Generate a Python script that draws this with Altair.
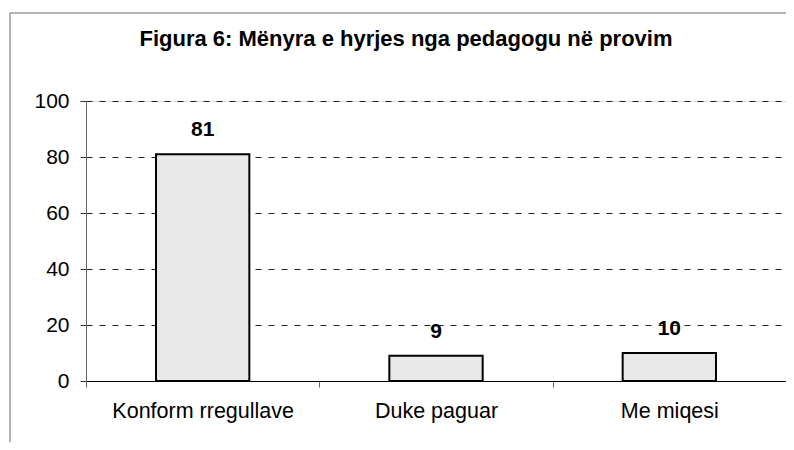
import altair as alt
import pandas as pd

categories = ["Konform rregullave", "Duke paguar", "Me miqesi"]
values = [81, 9, 10]
y_ticks = [0, 20, 40, 60, 80, 100]
title_text = "Figura 6: Mënyra e hyrjes nga pedagogu në provim"

df = pd.DataFrame({"cat": categories, "val": values})
FONT = "Liberation Sans"

x_enc = alt.X(
    "cat:N",
    sort=categories,
    title=None,
    scale=alt.Scale(paddingInner=0, paddingOuter=0),
    axis=alt.Axis(
        labelAngle=0, tickBand="extent", tickSize=6, tickColor="#666666",
        domainColor="#000000", domainWidth=1.2, labelFont=FONT, labelFontSize=21.5,
        labelColor="#000000", labelPadding=13, labelLimit=400, grid=False,
    ),
)
y_enc = alt.Y(
    "val:Q",
    title=None,
    scale=alt.Scale(domain=[0, 100], nice=False),
    axis=alt.Axis(
        values=y_ticks, tickSize=6, tickColor="#333333", domainColor="#666666",
        labelFont=FONT, labelFontSize=21, labelColor="#000000", labelPadding=11,
        grid=True, gridColor="#222222", gridDash=[6, 7], gridWidth=1,
    ),
)

bars = alt.Chart(df).mark_bar(
    width=alt.RelativeBandSize(0.4), fill="#E8E8E8", stroke="#000000", strokeWidth=2
).encode(x=x_enc, y=y_enc)

labels = alt.Chart(df).mark_text(
    font=FONT, fontSize=21, fontWeight="bold", baseline="alphabetic", dy=-18, color="#000000"
).encode(x=alt.X("cat:N", sort=categories), y="val:Q", text="val:Q")

frame_data = alt.Data(values=[{"k": 1}])
frame_left = alt.Chart(frame_data).mark_rule(color="#999999", strokeWidth=1.5).encode(
    x=alt.value(-76), y=alt.value(-88), y2=alt.value(360)
)
frame_top = alt.Chart(frame_data).mark_rule(color="#999999", strokeWidth=1.5).encode(
    x=alt.value(-76), x2=alt.value(720), y=alt.value(-88)
)

chart = alt.layer(bars, labels, frame_left, frame_top).properties(
    width=700,
    height=280,
    title=alt.TitleParams(
        text=title_text, font=FONT, fontSize=22, fontWeight="bold", color="#000000",
        anchor="middle", dx=-30, offset=-56, baseline="alphabetic",
    ),
    autosize=alt.AutoSizeParams(type="none"),
    padding={"left": 78, "top": 93, "right": 0, "bottom": 61},
).configure_view(stroke=None).configure(background="white")

chart.save("out.html", embed_options={"renderer": "svg", "actions": False})
